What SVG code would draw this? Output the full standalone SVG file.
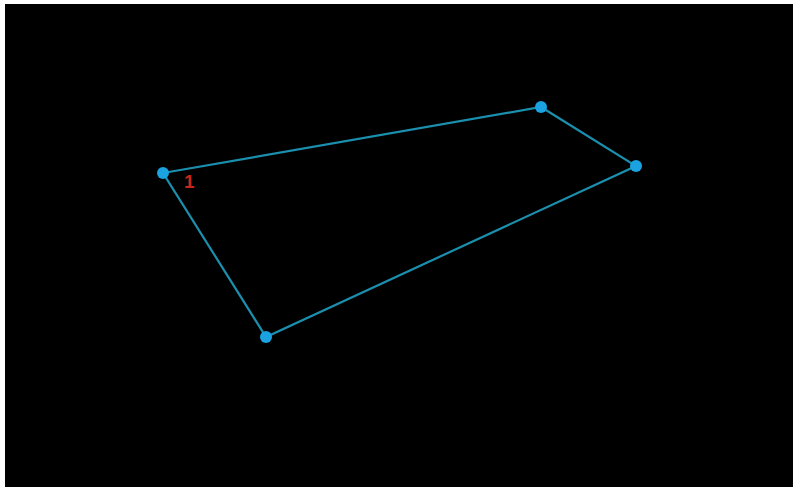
<svg xmlns="http://www.w3.org/2000/svg" width="796" height="491" viewBox="0 0 796 491">
<style>
.edge{stroke:#1b8fae;stroke-width:2.2;fill:none}
.pt{fill:#1aa3e0}
.lbl{font-family:"Liberation Sans",Arial,sans-serif;font-size:19px;font-weight:bold;fill:#c8281c}
</style>
<rect width="796" height="491" fill="#ffffff"/>
<rect x="5" y="4" width="788" height="483" fill="#000000"/>
<g id="connectors">
<polygon class="edge" points="163,173 541,107 636,166 266,337"/>
</g>
<g id="p1"><circle class="pt" cx="163" cy="173" r="6"/><text class="lbl" x="184" y="188">1</text></g>
<g id="p2"><circle class="pt" cx="541" cy="107" r="6"/></g>
<g id="p3"><circle class="pt" cx="636" cy="166" r="6"/></g>
<g id="p4"><circle class="pt" cx="266" cy="337" r="6"/></g>
</svg>
